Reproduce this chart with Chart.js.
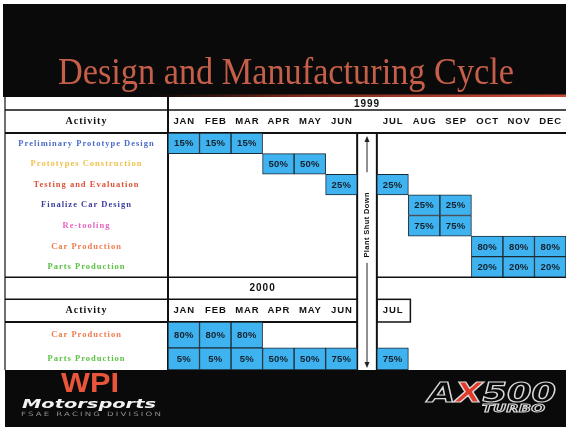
<!DOCTYPE html>
<html>
<head>
<meta charset="utf-8">
<script src="https://cdn.jsdelivr.net/npm/chart.js@4.4.0/dist/chart.umd.min.js"></script>
<style>
  html, body { margin: 0; padding: 0; background: #fff; }
  canvas { display: block; }
</style>
</head>
<body>
<canvas id="chart" width="566" height="427"></canvas>
<script>
// --- Data ---
const months = ['JAN','FEB','MAR','APR','MAY','JUN','JUL','AUG','SEP','OCT','NOV','DEC'];
const activities1999 = ['Preliminary Prototype Design','Prototypes Construction','Testing and Evaluation',
                        'Finalize Car Design','Re-tooling','Car Production','Parts Production'];
// share of effort per month in 1999 (null = idle)
const prelimDesign  = [15, 15, 15, null, null, null, null, null, null, null, null, null];
const protoBuild    = [null, null, null, 50, 50, null, null, null, null, null, null, null];
const testing       = [null, null, null, null, null, 25, 25, null, null, null, null, null];
const finalDesign   = [null, null, null, null, null, null, null, 25, 25, null, null, null];
const retooling     = [null, null, null, null, null, null, null, 75, 75, null, null, null];
const carProd1999   = [null, null, null, null, null, null, null, null, null, 80, 80, 80];
const partsProd1999 = [null, null, null, null, null, null, null, null, null, 20, 20, 20];
const values1999 = [prelimDesign, protoBuild, testing, finalDesign, retooling, carProd1999, partsProd1999];

const months2000 = ['JAN','FEB','MAR','APR','MAY','JUN','JUL'];
const activities2000 = ['Car Production','Parts Production'];
const carProd2000   = [80, 80, 80, null, null, null, null];
const partsProd2000 = [5, 5, 5, 50, 50, 75, 75];
const values2000 = [carProd2000, partsProd2000];

// --- Layout / style ---
const labelColors = {
  'Preliminary Prototype Design': '#4c6cc9',
  'Prototypes Construction': '#f0c24c',
  'Testing and Evaluation': '#df5238',
  'Finalize Car Design': '#3b3c9c',
  'Re-tooling': '#e662c2',
  'Car Production': '#f07a4c',
  'Parts Production': '#5cc244'
};
const SHUT_W = 0.625;                 // plant shut down column, in month units
const monthX = i => i + 0.5 + (i >= 6 ? SHUT_W : 0);
const Y_MIN = -1.75, Y_MAX = 11.5;
const ROWS = {
  yr1999: [-1.75, -1.12], hd1999: [-1.12, 0],
  yr2000: [7, 8.07], hd2000: [8.07, 9.17],
  act2000: [[9.17, 10.43], [10.43, 11.5]]
};
const CELL = { backgroundColor: '#3fb3ef', borderColor: '#1b2a35', borderWidth: 1, borderSkipped: false };

const datasets = [];
activities1999.forEach((name, r) => {
  datasets.push({
    label: name + ' 1999', ...CELL,
    data: values1999[r].map((v, m) => v == null ? null : { x: monthX(m), y: [r, r + 1], v }).filter(Boolean)
  });
});
activities2000.forEach((name, r) => {
  datasets.push({
    label: name + ' 2000', ...CELL,
    data: values2000[r].map((v, m) => v == null ? null : { x: monthX(m), y: ROWS.act2000[r], v }).filter(Boolean)
  });
});

// --- Utilities ---
function txt(ctx, s, x, y, font, color, o = {}) {
  ctx.save();
  ctx.font = font;
  ctx.fillStyle = color;
  ctx.textAlign = o.align || 'center';
  ctx.textBaseline = o.base || 'middle';
  ctx.letterSpacing = (o.ls || 0) + 'px';
  ctx.translate(x, y);
  if (o.rot) ctx.rotate(o.rot);
  if (o.w) ctx.scale(o.w / ctx.measureText(s).width, 1);
  ctx.fillText(s, 0, 0);
  ctx.restore();
}
function line(ctx, x1, y1, x2, y2, w) {
  ctx.beginPath();
  ctx.lineWidth = w || 1;
  ctx.moveTo(x1, y1); ctx.lineTo(x2, y2);
  ctx.stroke();
}

const framePlugin = {
  id: 'frame',
  beforeDraw(chart) {
    const ctx = chart.ctx, xs = chart.scales.x, ys = chart.scales.y;
    const Y = v => ys.getPixelForValue(v), X = v => xs.getPixelForValue(v);
    const left = 5, split = xs.left, right = 566;
    const shutL = X(6), shutR = X(6 + SHUT_W);

    // black bands
    ctx.fillStyle = '#0b0a0a';
    ctx.fillRect(3, 4, 563, Y(Y_MIN) - 4);
    ctx.fillRect(5, Y(Y_MAX), 561, 427 - Y(Y_MAX));

    // title
    txt(ctx, 'Design and Manufacturing Cycle', 286, 84, '37px "Liberation Serif"', '#c65f4a', { base: 'alphabetic', w: 456 });
    const g = ctx.createLinearGradient(150, 0, 566, 0);
    g.addColorStop(0, 'rgba(110,30,20,0)');
    g.addColorStop(0.35, '#7c2a1c');
    g.addColorStop(1, '#cc4d3a');
    ctx.fillStyle = g;
    ctx.fillRect(150, Y(Y_MIN) - 2.5, 416, 2.5);

    // grid
    ctx.strokeStyle = '#111';
    line(ctx, left, Y(Y_MIN), left, Y(Y_MAX), 1.2);
    line(ctx, split, Y(Y_MIN), split, Y(Y_MAX), 2);
    line(ctx, left, Y(ROWS.yr1999[1]), right, Y(ROWS.yr1999[1]), 1.5);
    line(ctx, left, Y(0), right, Y(0), 2);
    line(ctx, shutL, Y(0), shutL, Y(Y_MAX), 2);
    line(ctx, shutR, Y(0), shutR, Y(Y_MAX), 2);
    line(ctx, left, Y(7), shutL, Y(7), 1.5);
    line(ctx, shutR, Y(7), right, Y(7), 1.5);
    line(ctx, left, Y(ROWS.hd2000[0]), shutL, Y(ROWS.hd2000[0]), 1.5);
    line(ctx, left, Y(ROWS.hd2000[1]), shutL, Y(ROWS.hd2000[1]), 2);
    // 2000 JUL box
    const julR = X(monthX(6) + 0.5) + 2;
    ctx.lineWidth = 1.5;
    ctx.strokeRect(shutR, Y(ROWS.hd2000[0]), julR - shutR, Y(ROWS.hd2000[1]) - Y(ROWS.hd2000[0]));

    // headers
    const mid = r => (Y(r[0]) + Y(r[1])) / 2;
    const monthFont = 'bold 9.5px "Liberation Sans"';
    txt(ctx, '1999', (shutL + shutR) / 2, mid(ROWS.yr1999) + 0.5, 'bold 10px "Liberation Sans"', '#111', { ls: 1 });
    txt(ctx, '2000', X(3), mid(ROWS.yr2000), 'bold 10px "Liberation Sans"', '#111', { ls: 1 });
    months.forEach((m, i) => txt(ctx, m, X(monthX(i)) + 0.5, mid(ROWS.hd1999), monthFont, '#111', { ls: 0.9 }));
    months2000.forEach((m, i) => txt(ctx, m, X(monthX(i)) + 0.5, mid(ROWS.hd2000), monthFont, '#111', { ls: 0.9 }));
    const cx = (left + split) / 2;
    const actFont = 'bold 10px "Liberation Serif"';
    txt(ctx, 'Activity', cx, mid(ROWS.hd1999), actFont, '#111', { ls: 1 });
    txt(ctx, 'Activity', cx, mid(ROWS.hd2000), actFont, '#111', { ls: 1 });

    // activity labels
    const labFont = 'bold 8.5px "Liberation Serif"';
    activities1999.forEach((a, r) => txt(ctx, a, cx, Y(r + 0.5), labFont, labelColors[a], { ls: 1 }));
    activities2000.forEach((a, r) => txt(ctx, a, cx, mid(ROWS.act2000[r]), labFont, labelColors[a], { ls: 1 }));

    // plant shut down
    const sx = (shutL + shutR) / 2;
    ctx.strokeStyle = '#222';
    ctx.fillStyle = '#222';
    line(ctx, sx, Y(0) + 6, sx, Y(1.9), 1);
    ctx.beginPath(); ctx.moveTo(sx, Y(0) + 3); ctx.lineTo(sx - 2.5, Y(0) + 9); ctx.lineTo(sx + 2.5, Y(0) + 9); ctx.fill();
    txt(ctx, 'Plant Shut Down', sx, Y(4.45), 'bold 7.5px "Liberation Sans"', '#111', { rot: -Math.PI / 2, ls: 0.4 });
    line(ctx, sx, Y(6.3), sx, Y(Y_MAX) - 6, 1);
    ctx.beginPath(); ctx.moveTo(sx, Y(Y_MAX) - 2); ctx.lineTo(sx - 2.5, Y(Y_MAX) - 8); ctx.lineTo(sx + 2.5, Y(Y_MAX) - 8); ctx.fill();

    // logos
    txt(ctx, 'WPI', 90, 392, 'bold 28px "Liberation Sans"', '#e9553a', { base: 'alphabetic', w: 58 });
    txt(ctx, 'Motorsports', 22, 408, 'bold italic 13px "DejaVu Sans"', '#f2f2f2', { base: 'alphabetic', align: 'left', w: 134 });
    txt(ctx, 'FSAE RACING DIVISION', 21, 416, '6px "DejaVu Sans"', '#8e8e8e', { base: 'alphabetic', align: 'left', ls: 1.5, w: 142 });
    ctx.save();
    ctx.font = 'bold italic 27px "DejaVu Sans"';
    ctx.textBaseline = 'alphabetic';
    const parts = [['A', null], ['X', '#e23a2a'], ['500', null]];
    const tot = parts.reduce((s, p) => s + ctx.measureText(p[0]).width, 0);
    ctx.translate(428, 402);
    ctx.scale(128 / tot, 1);
    let px = 0;
    ctx.lineWidth = 1.2;
    ctx.strokeStyle = '#d8d8d8';
    parts.forEach(([s, fill]) => {
      if (fill) { ctx.fillStyle = fill; ctx.fillText(s, px, 0); }
      ctx.strokeText(s, px, 0);
      px += ctx.measureText(s).width;
    });
    ctx.restore();
    ctx.save();
    ctx.font = 'bold italic 11px "DejaVu Sans"';
    ctx.textBaseline = 'alphabetic';
    ctx.translate(482, 412);
    ctx.scale(63 / ctx.measureText('TURBO').width, 1);
    ctx.lineWidth = 1;
    ctx.strokeStyle = '#d8d8d8';
    ctx.strokeText('TURBO', 0, 0);
    ctx.restore();
  },
  afterDatasetsDraw(chart) {
    const ctx = chart.ctx;
    chart.data.datasets.forEach((ds, di) => {
      chart.getDatasetMeta(di).data.forEach((el, i) => {
        txt(ctx, ds.data[i].v + '%', el.x, (el.y + el.base) / 2 + 0.5, 'bold 9.5px "Liberation Sans"', '#14202c', { ls: 0.2 });
      });
    });
  }
};

new Chart(document.getElementById('chart'), {
  type: 'bar',
  data: { datasets },
  options: {
    responsive: false,
    devicePixelRatio: 1,
    animation: false,
    grouped: false,
    categoryPercentage: 1,
    barPercentage: 1,
    layout: { padding: { left: 168, right: 0, top: 97, bottom: 57 } },
    plugins: { legend: { display: false }, tooltip: { enabled: false } },
    scales: {
      x: { type: 'linear', display: false, offset: false, min: 0, max: 12 + SHUT_W, ticks: { stepSize: 1, includeBounds: false } },
      y: { type: 'linear', display: false, reverse: true, min: Y_MIN, max: Y_MAX }
    }
  },
  plugins: [framePlugin]
});
</script>
</body>
</html>
